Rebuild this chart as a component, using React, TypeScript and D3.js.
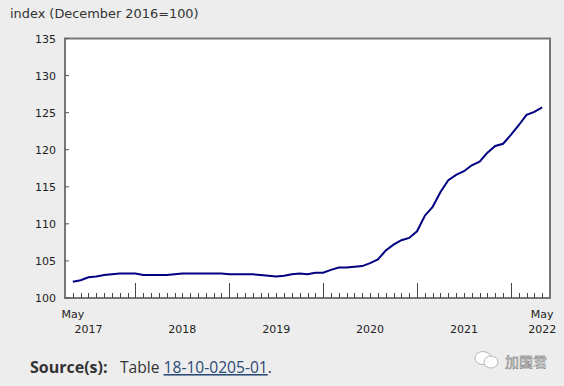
import React from "react";
import * as d3 from "d3";

const values2017 = [102.2, 102.4, 102.8, 102.9, 103.1, 103.2, 103.3, 103.3];
const values2018 = [103.3, 103.1, 103.1, 103.1, 103.1, 103.2, 103.3, 103.3, 103.3, 103.3, 103.3, 103.3];
const values2019 = [103.2, 103.2, 103.2, 103.2, 103.1, 103.0, 102.9, 103.0, 103.2, 103.3, 103.2, 103.4];
const values2020 = [103.4, 103.8, 104.1, 104.1, 104.2, 104.3, 104.7, 105.2, 106.4, 107.2, 107.8, 108.1];
const values2021 = [109.0, 111.1, 112.3, 114.3, 115.9, 116.6, 117.1, 117.9, 118.4, 119.6, 120.5, 120.8];
const values2022 = [122.0, 123.3, 124.7, 125.1, 125.7];
const values = [...values2017, ...values2018, ...values2019, ...values2020, ...values2021, ...values2022];
const yTicks = [100, 105, 110, 115, 120, 125, 130, 135];
const yearLabels = [2017, 2018, 2019, 2020, 2021, 2022];
const yearLabelIndex = [2, 14, 26, 38, 50, 60];
const FONT = "'DejaVu Sans', Verdana, sans-serif";

export default function App() {
  const L = 65, R = 550, T = 38.5, B = 298;
  const x = d3.scaleLinear().domain([-1, 61]).range([L, R]);
  const y = d3.scaleLinear().domain([100, 135]).range([B, T]);
  const line = d3.line<number>().x((_, i) => x(i)).y((d) => y(d));
  return (
    <svg width={564} height={386} style={{ position: "absolute", left: 0, top: 0, background: "#ededed" }} fontFamily={FONT}>
      <rect x={L} y={T} width={R - L} height={B - T} fill="#fff" stroke="#777" strokeWidth={2} />
      {yTicks.map((t) => (
        <g key={t}>
          <line x1={L} x2={L + 4} y1={y(t)} y2={y(t)} stroke="#555" />
          <text x={56} y={y(t) + 4} textAnchor="end" fontSize={11} fill="#222">{t}</text>
        </g>
      ))}
      {values.map((_, i) => {
        const major = (i + 4) % 12 === 0 && i > 0 && i < 60;
        const px = Math.round(x(i)) + 0.5;
        return <line key={i} x1={px} x2={px} y1={B} y2={B - (major ? 15 : 5)} stroke="#444" />;
      })}
      <path d={line(values) ?? ""} fill="none" stroke="#000080" strokeWidth={2} />
      <text x={x(0)} y={318} textAnchor="middle" fontSize={11} fill="#222">May</text>
      <text x={x(60)} y={318} textAnchor="middle" fontSize={11} fill="#222">May</text>
      {yearLabels.map((yr, i) => (
        <text key={yr} x={x(yearLabelIndex[i])} y={333} textAnchor="middle" fontSize={11} fill="#222">{yr}</text>
      ))}
      <text x={10} y={18} fontSize={12.9} fill="#333">index (December 2016=100)</text>
      <text x={30} y={373} fontSize={16} fontWeight={700} fill="#333" fontFamily="'Open Sans', sans-serif">Source(s):</text>
      <text x={120} y={373} fontSize={15.6} fill="#333" fontFamily="'Open Sans', sans-serif">
        Table <tspan fill="#2b4a77" textDecoration="underline">18-10-0205-01</tspan>.
      </text>
      <g fill="#fff" stroke="#999" strokeWidth={0.7}>
        <ellipse cx={483} cy={358} rx={8} ry={6.5} />
        <ellipse cx={491} cy={362} rx={7} ry={6} />
      </g>
      <text x={505} y={367} fontSize={14} fill="#fff" stroke="#666" strokeWidth={0.5} fontFamily="'Noto Sans CJK SC', sans-serif">加国君</text>
    </svg>
  );
}
